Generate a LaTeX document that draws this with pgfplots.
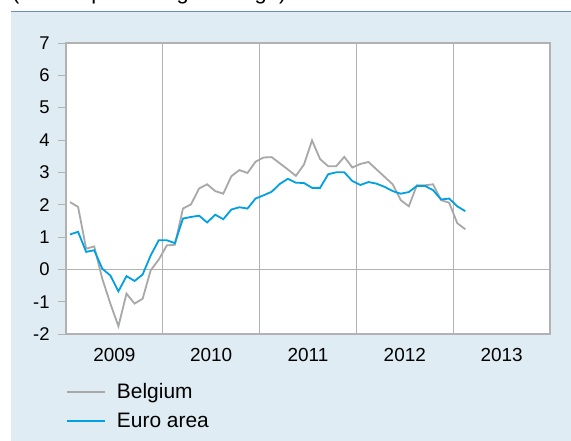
\documentclass[border=0pt]{standalone}
\usepackage{fontspec}
\setmainfont{Liberation Sans}
\usepackage{pgfplots}
\pgfplotsset{compat=1.18}
\usepackage{pgfplotstable}
\definecolor{panel}{HTML}{DFECF3}
\definecolor{rule}{HTML}{6B8DBE}
\definecolor{be}{HTML}{A8A8A8}
\definecolor{ea}{HTML}{00A0E2}
\definecolor{frame}{HTML}{B2B2B2}

% monthly, m = 1 is Jan 2009
\pgfplotstableread{
m be ea
1 2.08 1.08
2 1.93 1.16
3 0.64 0.54
4 0.71 0.59
5 -0.29 0.02
6 -1.06 -0.19
7 -1.76 -0.68
8 -0.75 -0.21
9 -1.06 -0.36
10 -0.91 -0.16
11 -0.03 0.43
12 0.30 0.90
13 0.74 0.90
14 0.76 0.81
15 1.88 1.57
16 2.01 1.62
17 2.50 1.66
18 2.63 1.45
19 2.42 1.69
20 2.34 1.55
21 2.88 1.85
22 3.07 1.92
23 2.98 1.88
24 3.33 2.19
25 3.46 2.29
26 3.47 2.40
27 3.28 2.64
28 3.09 2.80
29 2.89 2.68
30 3.24 2.67
31 3.99 2.52
32 3.41 2.52
33 3.19 2.94
34 3.19 3.00
35 3.48 3.00
36 3.15 2.73
37 3.26 2.61
38 3.32 2.70
39 3.09 2.65
40 2.86 2.55
41 2.63 2.42
42 2.14 2.34
43 1.95 2.39
44 2.60 2.58
45 2.60 2.58
46 2.63 2.45
47 2.14 2.16
48 2.06 2.19
49 1.43 1.95
50 1.24 1.80
}\hicp

\begin{document}
\begin{tikzpicture}
\useasboundingbox (0,0) rectangle (571bp,-441bp);
\fill[panel] (11bp,-12bp) rectangle (571bp,-441bp);
\draw[rule, line width=1.5bp] (11bp,-11.5bp) -- (571bp,-11.5bp);
\node[anchor=base west, inner sep=0, font=\fontsize{22}{24}\selectfont]
  at (12bp,0.5bp) {(annual percentage change)};
\begin{axis}[
    at={(66bp,-334bp)}, anchor=south west,
    scale only axis, width=484bp, height=291bp,
    xmin=2009, xmax=2014, ymin=-2, ymax=7,
    xtick={2009.5,2010.5,2011.5,2012.5,2013.5},
    xticklabels={2009,2010,2011,2012,2013},
    minor xtick={2010,2011,2012,2013},
    xminorgrids=true,
    minor x grid style={frame, line width=0.9bp},
    ytick={-2,-1,0,1,2,3,4,5,6,7},
    yticklabels={-2,-1,0,1,2,3,4,5,6,7},
    ytick pos=left, xtick pos=bottom,
    tick align=outside,
    major tick length=8bp, minor tick length=0pt,
    major x tick style={draw=none},
    tick style={frame, line width=0.9bp},
    axis line style={frame, line width=1.2bp},
    extra y ticks={0}, extra y tick labels={},
    extra y tick style={ymajorgrids=true, major tick length=0pt,
      grid style={frame, line width=0.9bp}},
    axis background/.style={fill=white},
    xticklabel style={font=\fontsize{19}{21}\selectfont, yshift=-3bp},
    yticklabel style={font=\fontsize{18.5}{20}\selectfont, xshift=-5bp},
    legend style={at={(0,-0.162)}, anchor=north west, draw=none, fill=none,
      font=\fontsize{21}{24}\selectfont, row sep=9bp, inner sep=0pt,
      /tikz/every odd column/.append style={column sep=9bp}},
    legend cell align=left,
    legend image code/.code={\draw[#1] (0bp,0bp) -- (38bp,0bp);},
  ]
  \addplot[be, line width=1.8bp, no marks] table[x expr={2009+(\thisrow{m}-0.5)/12}, y=be] {\hicp};
  \addlegendentry{Belgium}
  \addplot[ea, line width=1.8bp, no marks] table[x expr={2009+(\thisrow{m}-0.5)/12}, y=ea] {\hicp};
  \addlegendentry{Euro area}
\end{axis}
\end{tikzpicture}
\end{document}
